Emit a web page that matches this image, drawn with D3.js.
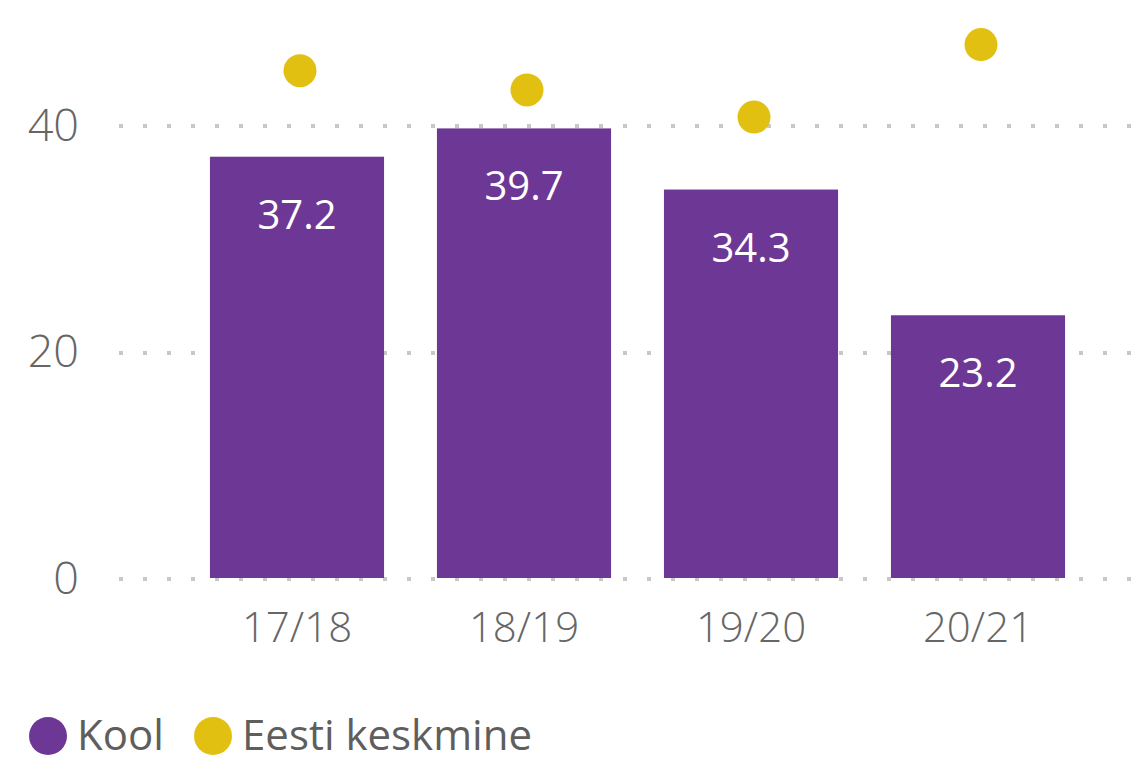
<!DOCTYPE html>
<html><head><meta charset="utf-8">
<script src="https://cdn.jsdelivr.net/npm/d3@7"></script>
<style>body{margin:0;background:#fff}svg{display:block}</style>
</head><body>
<svg id="c" width="1147" height="762"></svg>
<script>
const categories = ["17/18","18/19","19/20","20/21"];
const koolValues = [37.2, 39.7, 34.3, 23.2];
const eestiValues = [44.8, 43.1, 40.7, 47.1];
const yTicks = [0, 20, 40];
const seriesNames = ["Kool", "Eesti keskmine"];
const seriesColors = ["#6D3895", "#E2C011"];

const svg = d3.select("#c");
const font = "'Open Sans', 'Segoe UI', sans-serif";
const y = d3.scaleLinear().domain([0, 40]).range([578, 125]);
const x = d3.scaleBand().domain(categories).range([183.5, 1091.5]).paddingInner(0.233).paddingOuter(0.1165);
const xp = d3.scalePoint().domain(categories).range([183.5 + x.step()/2 + 3, 1091.5 - x.step()/2 + 3]);

// gridlines
svg.append("g").selectAll("line").data(yTicks).join("line")
  .attr("x1", 119).attr("x2", 1140)
  .attr("y1", d => Math.round(y(d)) + 1).attr("y2", d => Math.round(y(d)) + 1)
  .attr("stroke", "#c8c8c8").attr("stroke-width", 4)
  .attr("stroke-dasharray", "4,20");

// y labels
const yAxis = d3.axisLeft(y).tickValues(yTicks).tickSize(0).tickPadding(0);
const gy = svg.append("g").attr("transform", "translate(79,1)").call(yAxis);
gy.select(".domain").remove();
gy.selectAll("text").attr("font-family", font).attr("font-weight", 300)
  .attr("font-size", 45).attr("fill", "#666");

// bars
svg.append("g").selectAll("rect").data(koolValues).join("rect")
  .attr("x", (d,i) => x(categories[i])).attr("width", x.bandwidth())
  .attr("y", d => y(d)).attr("height", d => y(0) - y(d))
  .attr("fill", seriesColors[0]);

// bar labels
svg.append("g").selectAll("text").data(koolValues).join("text")
  .attr("x", (d,i) => x(categories[i]) + x.bandwidth()/2)
  .attr("y", d => y(d) + 72)
  .attr("text-anchor", "middle").attr("font-family", font)
  .attr("font-size", 40).attr("fill", "#fff")
  .text(d => d.toFixed(1));

// points
svg.append("g").selectAll("circle").data(eestiValues).join("circle")
  .attr("cx", (d,i) => xp(categories[i])).attr("cy", d => y(d))
  .attr("r", 16.5).attr("fill", seriesColors[1]);

// x axis labels
const xAxis = d3.axisBottom(x).tickSize(0).tickPadding(0);
const gx = svg.append("g").attr("transform", "translate(0,642)").call(xAxis);
gx.select(".domain").remove();
gx.selectAll("text").attr("dy", 0).attr("font-family", font).attr("font-weight", 300)
  .attr("font-size", 42).attr("fill", "#666");

// legend
const legendX = [48, 213];
const lg = svg.append("g");
seriesNames.forEach((n, i) => {
  lg.append("circle").attr("cx", legendX[i]).attr("cy", 736).attr("r", 19).attr("fill", seriesColors[i]);
  lg.append("text").attr("x", legendX[i] + 29).attr("y", 750)
    .attr("font-family", font).attr("font-size", 42).attr("fill", "#605E5C").text(n);
});
</script>
</body></html>
